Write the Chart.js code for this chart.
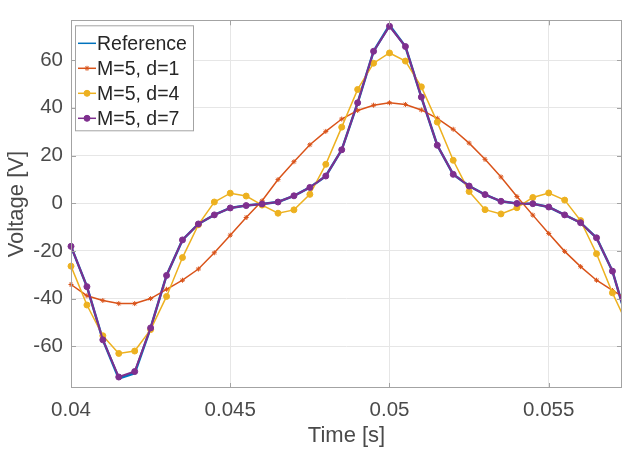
<!DOCTYPE html>
<html><head><meta charset="utf-8">
<script src="https://cdn.jsdelivr.net/npm/chart.js@4/dist/chart.umd.min.js"></script>
<style>html,body{margin:0;padding:0;background:#fff}#wrap{width:627px;height:449px}</style>
</head><body><div id="wrap"><canvas id="c" width="627" height="449"></canvas></div>
<script>
// ---- data ----
const timeS = [0.04,0.0405,0.041,0.0415,0.042,0.0425,0.043,0.0435,0.044,0.0445,0.045,0.0455,0.046,0.0465,0.047,0.0475,0.048,0.0485,0.049,0.0495,0.05,0.0505,0.051,0.0515,0.052,0.0525,0.053,0.0535,0.054,0.0545,0.055,0.0555,0.056,0.0565,0.057,0.0575];
const reference = [-18.1,-35.0,-57.3,-73.5,-71.3,-52.3,-30.3,-15.4,-8.7,-4.9,-2.0,-1.0,-0.3,0.5,3.1,6.6,11.4,22.4,42.1,63.7,74.6,65.7,44.5,24.3,12.1,7.2,3.6,0.8,-0.1,-0.2,-1.6,-4.9,-8.2,-14.5,-28.5,-51.0];
const m5d1 = [-34.1,-38.8,-40.8,-42.1,-42.1,-40.0,-36.1,-32.3,-27.6,-20.8,-13.4,-6.0,1.0,9.9,17.4,24.5,30.1,35.3,38.9,41.1,42.1,41.4,39.1,35.6,31.0,25.2,18.4,11.0,2.8,-5.0,-12.7,-20.2,-26.6,-32.3,-36.6,-40.6];
const m5d4 = [-26.4,-42.7,-55.6,-63.0,-62.0,-53.0,-39.1,-22.8,-9.0,0.5,4.2,3.0,-0.8,-4.2,-2.8,3.7,16.3,31.9,47.7,58.7,63.0,59.6,48.8,34.0,18.0,4.9,-2.7,-4.5,-1.9,2.4,4.3,1.3,-7.3,-21.2,-37.6,-51.8];
const m5d7 = [-18.1,-35.0,-57.3,-72.9,-70.6,-52.3,-30.3,-15.4,-8.7,-4.9,-2.0,-1.0,-0.3,0.5,3.1,6.6,11.4,22.4,42.1,63.7,74.2,65.7,44.5,24.3,12.1,7.2,3.6,0.8,-0.1,-0.2,-1.6,-4.9,-8.2,-14.5,-28.5,-51.0];
const seriesLabels = ['Reference','M=5, d=1','M=5, d=4','M=5, d=7'];
const xTickValues = [0.04,0.045,0.05,0.055];
const yTickValues = [-60,-40,-20,0,20,40,60];
const xLimits = [0.04,0.0573];
const yLimits = [-77.5,76.7];

// ---- styling ----
const FONT = "'Liberation Sans', Arial, Helvetica, sans-serif";
const colors = ['#0072BD','#D95319','#EDB120','#7E2F8E'];
const toPts = (ys) => timeS.map((t,i)=>({x:t,y:ys[i]}));
const clip = {left:6,top:6,right:0,bottom:6};

const boxPlugin = {
  id:'matlabBox',
  afterDatasetsDraw(chart){
    const ctx = chart.ctx, ca = chart.chartArea;
    const xs = chart.scales.x, ys = chart.scales.y;
    ctx.save();
    ctx.strokeStyle = '#a3a3a3'; ctx.lineWidth = 1;
    ctx.strokeRect(Math.round(ca.left)+0.5, Math.round(ca.top)+0.5, Math.round(ca.right-ca.left)-1, Math.round(ca.bottom-ca.top)-1);
    const tl = 5;
    ctx.beginPath();
    xTickValues.forEach(v=>{
      const px = Math.round(xs.getPixelForValue(v))+0.5;
      ctx.moveTo(px, ca.bottom); ctx.lineTo(px, ca.bottom-tl);
      ctx.moveTo(px, ca.top); ctx.lineTo(px, ca.top+tl);
    });
    yTickValues.forEach(v=>{
      const py = Math.round(ys.getPixelForValue(v))+0.5;
      ctx.moveTo(ca.left, py); ctx.lineTo(ca.left+tl, py);
      ctx.moveTo(ca.right, py); ctx.lineTo(ca.right-tl, py);
    });
    ctx.stroke();
    // legend
    const x0 = ca.left+4, y0 = ca.top+5, w = 118, rowH = 25, h = 105;
    ctx.fillStyle = '#fff'; ctx.fillRect(x0, y0, w, h);
    ctx.strokeStyle = '#a3a3a3'; ctx.strokeRect(x0+0.5, y0+0.5, w, h);
    ctx.font = '19.5px ' + FONT; ctx.textBaseline = 'middle'; ctx.textAlign = 'left';
    const items = chart.data.datasets.slice().sort((a,b)=>a.legendIndex-b.legendIndex);
    items.forEach((ds,i)=>{
      const cy = y0 + 18 + i*rowH;
      ctx.strokeStyle = ds.borderColor; ctx.lineWidth = 1.5;
      ctx.beginPath(); ctx.moveTo(x0+3, cy); ctx.lineTo(x0+21, cy); ctx.stroke();
      if (ds.pointRadius > 0) {
        ctx.fillStyle = ds.pointBackgroundColor; ctx.strokeStyle = ds.pointBorderColor;
        ctx.lineWidth = 1;
        Chart.helpers.drawPoint(ctx, {pointStyle: ds.pointStyle, radius: ds.pointRadius, borderWidth: 1}, x0+12, cy);
      }
      ctx.fillStyle = '#262626';
      ctx.fillText(ds.label, x0+22, cy+1);
    });
    ctx.restore();
  }
};

new Chart(document.getElementById('c'), {
  type: 'line',
  data: {
    datasets: [
      {label: seriesLabels[0], legendIndex: 0, order: 3, data: toPts(reference), borderColor: colors[0], backgroundColor: colors[0], borderWidth: 2.5, pointRadius: 0, clip},
      {label: seriesLabels[1], legendIndex: 1, order: 2, data: toPts(m5d1), borderColor: colors[1], backgroundColor: colors[1], borderWidth: 1.5, pointStyle: 'star', pointRadius: 2.5, pointBorderColor: colors[1], pointBackgroundColor: colors[1], pointBorderWidth: 1, clip},
      {label: seriesLabels[2], legendIndex: 2, order: 1, data: toPts(m5d4), borderColor: colors[2], backgroundColor: colors[2], borderWidth: 1.5, pointStyle: 'circle', pointRadius: 3, pointBorderColor: colors[2], pointBackgroundColor: colors[2], pointBorderWidth: 1, clip},
      {label: seriesLabels[3], legendIndex: 3, order: 0, data: toPts(m5d7), borderColor: colors[3], backgroundColor: colors[3], borderWidth: 2, pointStyle: 'circle', pointRadius: 3, pointBorderColor: colors[3], pointBackgroundColor: colors[3], pointBorderWidth: 1, clip}
    ]
  },
  options: {
    responsive: false, animation: false, devicePixelRatio: 1,
    layout: {padding: {left: 0, right: 5, top: 8, bottom: 0}},
    plugins: {legend: {display: false}, tooltip: {enabled: false}},
    elements: {line: {tension: 0}},
    scales: {
      x: {
        type: 'linear', min: xLimits[0], max: xLimits[1],
        afterBuildTicks: (s)=>{ s.ticks = xTickValues.map(v=>({value:v})); },
        afterFit: (s)=>{ s.height = 61; },
        grid: {color: '#e6e6e6', drawTicks: false},
        border: {display: false},
        ticks: {padding: 10, color: '#4a4a4a', font: {family: FONT, size: 20.5}, maxRotation: 0,
          callback: (v)=> String(+v.toFixed(4))},
        title: {display: true, text: 'Time [s]', color: '#4a4a4a', font: {family: FONT, size: 22}, padding: {top: 0, bottom: 0}}
      },
      y: {
        type: 'linear', min: yLimits[0], max: yLimits[1],
        afterBuildTicks: (s)=>{ s.ticks = yTickValues.map(v=>({value:v})); },
        afterFit: (s)=>{ s.width = 71; },
        grid: {color: '#e6e6e6', drawTicks: false},
        border: {display: false},
        ticks: {padding: 8, color: '#4a4a4a', font: {family: FONT, size: 20.5}, callback: (v)=> String(v)},
        title: {display: true, text: 'Voltage [V]', color: '#4a4a4a', font: {family: FONT, size: 22}, padding: {top: 4, bottom: 0}}
      }
    }
  },
  plugins: [boxPlugin]
});
</script>
</body></html>
